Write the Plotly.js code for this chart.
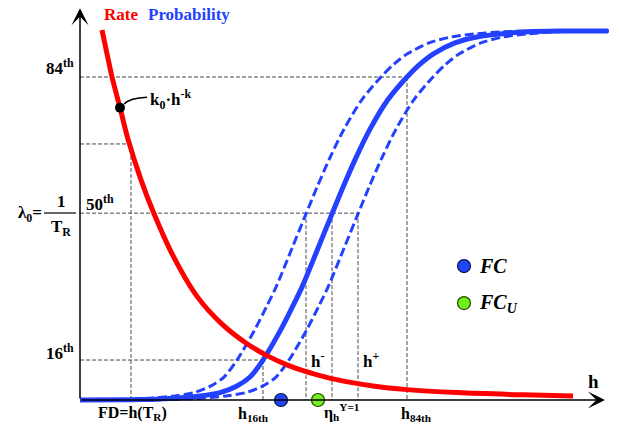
<!DOCTYPE html>
<html>
<head>
<meta charset="utf-8">
<script src="https://cdn.plot.ly/plotly-3.0.1.min.js"></script>
<style>html,body{margin:0;padding:0;background:#fff;}#chart{width:619px;height:426px;}</style>
</head>
<body>
<div id="chart"></div>
<script>
// ---- data (h in arbitrary units, probability / rate normalised 0..1) ----
const probLevels = [0, 0.001, 0.004, 0.011, 0.020, 0.038, 0.062, 0.108, 0.186, 0.255, 0.305, 0.41, 0.503, 0.575, 0.655, 0.732, 0.812, 0.873, 0.908, 0.935, 0.965, 0.981, 0.989, 0.995, 0.997, 0.997];
const hCentral = [0, 1.2, 1.8, 2.4, 2.8, 3.14, 3.4, 3.66, 4.0, 4.26, 4.44, 4.76, 5.04, 5.26, 5.52, 5.8, 6.16, 6.54, 6.8, 7.06, 7.5, 7.94, 8.4, 8.94, 9.6, 10.56];
const hLower = [0, 0.8, 1.3, 1.9, 2.28, 2.62, 2.88, 3.14, 3.48, 3.74, 3.92, 4.24, 4.52, 4.74, 5.0, 5.28, 5.64, 6.02, 6.28, 6.54, 6.98, 7.42, 7.88, 8.42, 9.08, 10.58];
const hUpper = [0, 1.6, 2.32, 2.92, 3.32, 3.66, 3.92, 4.18, 4.52, 4.78, 4.96, 5.28, 5.56, 5.78, 6.04, 6.32, 6.68, 7.06, 7.32, 7.58, 8.02, 8.46, 8.92, 9.46, 10.0, 10.58];

const hRate = [0.44, 0.54, 0.64, 0.8, 0.96, 1.22, 1.46, 1.86, 2.34, 2.84, 3.34, 3.74, 4.14, 4.4, 4.8, 5.06, 5.86, 6.54, 7.54, 8.86, 9.86];
const rate  = [1.0, 0.936, 0.873, 0.79, 0.705, 0.595, 0.51, 0.39, 0.28, 0.205, 0.152, 0.12, 0.095, 0.082, 0.066, 0.057, 0.038, 0.028, 0.02, 0.014, 0.011];

// guide lines: horizontal level -> end h
const guideLevel = [0.873, 0.692, 0.505, 0.108];
const guideEndH  = [6.54, 1.02, 5.56, 3.66];
// vertical guides: h -> top level
const vGuideH   = [6.54, 1.02, 4.52, 5.04, 5.56, 3.66];
const vGuideTop = [0.873, 0.692, 0.505, 0.505, 0.505, 0.108];

const kPoint = {h: 0.8, r: 0.79};
const fcH = 4.02, fcuH = 4.76;
const legendH = 7.68, legendFC = 0.362, legendFCU = 0.262;

// ---- build traces ----
const gx = [], gy = [];
guideLevel.forEach((p, i) => { gx.push(0, guideEndH[i], null); gy.push(p, p, null); });
vGuideH.forEach((h, i) => { gx.push(h, h, null); gy.push(vGuideTop[i], 0, null); });

const BLUE = 'rgb(35,65,255)';
const RED = 'rgb(255,0,0)';
const traces = [
  {x: gx, y: gy, mode: 'lines', line: {color: '#4a4a4a', width: 1, dash: '4px,2px'}, hoverinfo: 'skip'},
  {x: hLower, y: probLevels, mode: 'lines', line: {color: BLUE, width: 3, dash: '9px,4px', shape: 'spline', smoothing: 0.8}},
  {x: hUpper, y: probLevels, mode: 'lines', line: {color: BLUE, width: 3, dash: '9px,4px', shape: 'spline', smoothing: 0.8}},
  {x: hCentral, y: probLevels, mode: 'lines', line: {color: BLUE, width: 5, shape: 'spline', smoothing: 0.8}},
  {x: hRate, y: rate, mode: 'lines', line: {color: RED, width: 5, shape: 'spline', smoothing: 0.8}},
  {x: [kPoint.h], y: [kPoint.r], mode: 'markers', marker: {color: '#000', size: 10}},
  {x: [fcH, legendH], y: [0, legendFC], mode: 'markers', marker: {color: 'rgb(30,70,245)', size: 13, line: {color: '#0a1450', width: 1.2}}},
  {x: [fcuH, legendH], y: [0, legendFCU], mode: 'markers', marker: {color: 'rgb(115,240,25)', size: 13, line: {color: '#1e4a08', width: 1.2}}}
];

// ---- annotations (positions in pixels -> paper) ----
const W = 619, H = 426;
const px = x => x / W, py = y => 1 - y / H;
const F = 'Liberation Serif';
function lab(text, x, y, size, anchor, opts) {
  return Object.assign({text: text, x: px(x), y: py(y), xref: 'paper', yref: 'paper', showarrow: false,
    xanchor: anchor || 'left', yanchor: 'middle', font: {family: F, size: size, color: '#000', weight: 'bold'}}, opts || {});
}
const ann = [
  // axes arrows
  {x: 10.5, y: 0, ax: 0, ay: 0, xref: 'x', yref: 'y', axref: 'x', ayref: 'y', text: '', showarrow: true, arrowhead: 3, arrowsize: 1.9, arrowwidth: 1.5, arrowcolor: '#000'},
  {x: 0, y: 1.059, ax: 0, ay: 0, xref: 'x', yref: 'y', axref: 'x', ayref: 'y', text: '', showarrow: true, arrowhead: 3, arrowsize: 1.9, arrowwidth: 1.5, arrowcolor: '#000'},
  lab('Rate', 102, 15, 17, 'left', {font: {family: F, size: 17, color: RED, weight: 'bold'}}),
  lab('Probability', 146, 15, 17, 'left', {font: {family: F, size: 17, color: BLUE, weight: 'bold'}}),
  lab('84<sup>th</sup>', 76, 67, 17, 'right'),
  lab('50<sup>th</sup>', 84, 203, 17, 'left'),
  lab('16<sup>th</sup>', 76, 352, 17, 'right'),
  lab('λ<sub>0</sub>=', 44, 214, 17, 'right'),
  lab('1', 61, 201, 17, 'center'),
  lab('T<sub>R</sub>', 61, 228, 17, 'center'),
  lab('k<sub>0</sub>·h<sup>-k</sup>', 148, 99, 17, 'left'),
  lab('h<sup>-</sup>', 309, 360, 17, 'left'),
  lab('h<sup>+</sup>', 361, 360, 17, 'left'),
  lab('h', 593, 381, 19, 'center'),
  lab('FD=h(T<sub>R</sub>)', 96, 413, 16, 'left'),
  lab('h<sub>16th</sub>', 236, 414, 16, 'left'),
  lab('η<sub>h</sub><sup>Y=1</sup>', 322, 412, 16, 'left'),
  lab('h<sub>84th</sub>', 399, 414, 16, 'left'),
  lab('<i>FC</i>', 477, 266, 20, 'left'),
  lab('<i>FC<sub>U</sub></i>', 477, 303, 20, 'left')
];

const shapes = [
  {type: 'line', xref: 'paper', yref: 'paper', x0: px(44), x1: px(76), y0: py(213), y1: py(213), line: {color: '#000', width: 1.2}},
  {type: 'path', xref: 'x', yref: 'y', path: 'M 0.88,0.8 Q 1.0,0.816 1.34,0.818', line: {color: '#000', width: 1.5}}
];

const layout = {
  width: W, height: H, margin: {l: 0, r: 0, t: 0, b: 0},
  paper_bgcolor: '#fff', plot_bgcolor: '#fff', showlegend: false,
  xaxis: {range: [-1.6, 10.78], visible: false, fixedrange: true},
  yaxis: {range: [-0.0703, 1.0811], visible: false, fixedrange: true},
  annotations: ann, shapes: shapes
};
Plotly.newPlot('chart', traces, layout, {staticPlot: true, displayModeBar: false});
</script>
</body>
</html>
